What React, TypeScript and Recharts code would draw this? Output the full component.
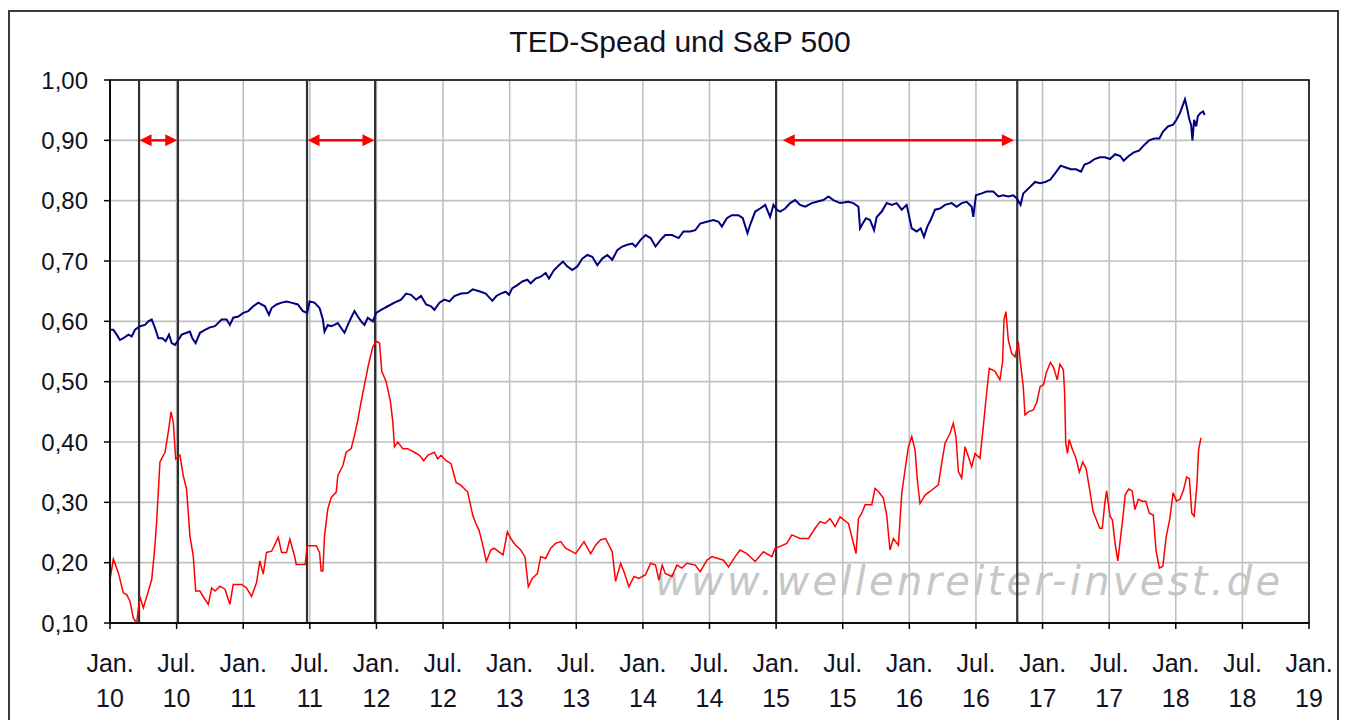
import {
  LineChart,
  Line,
  XAxis,
  YAxis,
  CartesianGrid,
  ReferenceLine,
  ReferenceArea,
} from "recharts";

// time is in decimal years (2010.5 = Jul. 10)
const xTicks = [
  2010, 2010.5, 2011, 2011.5, 2012, 2012.5, 2013, 2013.5, 2014, 2014.5,
  2015, 2015.5, 2016, 2016.5, 2017, 2017.5, 2018, 2018.5, 2019,
];
const xTickMonths = [
  "Jan.", "Jul.", "Jan.", "Jul.", "Jan.", "Jul.", "Jan.", "Jul.", "Jan.", "Jul.",
  "Jan.", "Jul.", "Jan.", "Jul.", "Jan.", "Jul.", "Jan.", "Jul.", "Jan.",
];
const xTickYears = [
  "10", "10", "11", "11", "12", "12", "13", "13", "14", "14",
  "15", "15", "16", "16", "17", "17", "18", "18", "19",
];
const yTicks = [0.1, 0.2, 0.3, 0.4, 0.5, 0.6, 0.7, 0.8, 0.9, 1.0];

// black marker lines and the red arrows between them
const eventDates = [2010.218, 2010.51, 2011.479, 2011.99, 2015.0, 2016.81];
const arrowSpans: [number, number][] = [
  [2010.222, 2010.505],
  [2011.483, 2011.985],
  [2015.05, 2016.785],
];
const arrowLevel = 0.9;

// TED spread (red)
const tedPoints: [number, number][] = [
  [2010.0, 0.172], [2010.025, 0.206], [2010.063, 0.183], [2010.1, 0.15], [2010.125, 0.147],
  [2010.15, 0.136], [2010.175, 0.108], [2010.2, 0.1], [2010.225, 0.144], [2010.25, 0.125],
  [2010.288, 0.153], [2010.313, 0.172], [2010.333, 0.217], [2010.35, 0.267], [2010.375, 0.367],
  [2010.413, 0.383], [2010.438, 0.417], [2010.458, 0.45], [2010.475, 0.433], [2010.493, 0.372],
  [2010.525, 0.378], [2010.55, 0.344], [2010.575, 0.322], [2010.6, 0.244], [2010.625, 0.211],
  [2010.643, 0.153], [2010.675, 0.153], [2010.713, 0.139], [2010.738, 0.131], [2010.763, 0.158],
  [2010.788, 0.153], [2010.825, 0.161], [2010.863, 0.156], [2010.9, 0.131], [2010.925, 0.164],
  [2010.988, 0.164], [2011.025, 0.158], [2011.063, 0.144], [2011.1, 0.167], [2011.125, 0.203],
  [2011.15, 0.181], [2011.175, 0.217], [2011.213, 0.219], [2011.263, 0.242], [2011.288, 0.217],
  [2011.325, 0.217], [2011.35, 0.239], [2011.385, 0.211], [2011.398, 0.197], [2011.465, 0.197],
  [2011.48, 0.228], [2011.548, 0.228], [2011.573, 0.217], [2011.585, 0.186], [2011.598, 0.186],
  [2011.61, 0.244], [2011.635, 0.289], [2011.66, 0.308], [2011.698, 0.317], [2011.71, 0.344],
  [2011.748, 0.361], [2011.773, 0.383], [2011.81, 0.389], [2011.835, 0.411], [2011.86, 0.436],
  [2011.885, 0.467], [2011.915, 0.5], [2011.94, 0.528], [2011.973, 0.558], [2011.998, 0.567],
  [2012.023, 0.564], [2012.04, 0.517], [2012.073, 0.5], [2012.105, 0.467], [2012.123, 0.433],
  [2012.135, 0.392], [2012.16, 0.4], [2012.198, 0.389], [2012.235, 0.389], [2012.285, 0.383],
  [2012.323, 0.378], [2012.355, 0.369], [2012.385, 0.378], [2012.435, 0.383], [2012.46, 0.372],
  [2012.485, 0.378], [2012.523, 0.369], [2012.56, 0.364], [2012.598, 0.333], [2012.635, 0.328],
  [2012.685, 0.317], [2012.723, 0.278], [2012.748, 0.264], [2012.77, 0.254], [2012.795, 0.232],
  [2012.825, 0.202], [2012.858, 0.221], [2012.883, 0.224], [2012.92, 0.218], [2012.95, 0.213],
  [2012.983, 0.251], [2013.008, 0.24], [2013.045, 0.229], [2013.083, 0.221], [2013.115, 0.21],
  [2013.14, 0.16], [2013.17, 0.174], [2013.208, 0.182], [2013.233, 0.21], [2013.27, 0.207],
  [2013.308, 0.224], [2013.345, 0.232], [2013.383, 0.235], [2013.42, 0.224], [2013.495, 0.215],
  [2013.558, 0.235], [2013.608, 0.215], [2013.645, 0.229], [2013.683, 0.238], [2013.72, 0.24],
  [2013.77, 0.218], [2013.795, 0.169], [2013.833, 0.199], [2013.858, 0.185], [2013.895, 0.16],
  [2013.933, 0.177], [2013.97, 0.174], [2014.02, 0.18], [2014.058, 0.199], [2014.095, 0.196],
  [2014.12, 0.171], [2014.145, 0.196], [2014.168, 0.182], [2014.218, 0.177], [2014.255, 0.196],
  [2014.293, 0.191], [2014.33, 0.199], [2014.393, 0.196], [2014.43, 0.185], [2014.48, 0.204],
  [2014.518, 0.21], [2014.605, 0.204], [2014.643, 0.193], [2014.693, 0.21], [2014.73, 0.221],
  [2014.78, 0.215], [2014.843, 0.202], [2014.905, 0.218], [2014.968, 0.21], [2014.993, 0.224],
  [2015.03, 0.227], [2015.08, 0.232], [2015.118, 0.246], [2015.18, 0.24], [2015.243, 0.24],
  [2015.293, 0.257], [2015.33, 0.268], [2015.368, 0.265], [2015.405, 0.273], [2015.443, 0.26],
  [2015.48, 0.276], [2015.543, 0.265], [2015.568, 0.243], [2015.6, 0.215], [2015.618, 0.273],
  [2015.643, 0.282], [2015.668, 0.296], [2015.718, 0.296], [2015.743, 0.323], [2015.768, 0.318],
  [2015.805, 0.307], [2015.83, 0.279], [2015.855, 0.221], [2015.88, 0.24], [2015.918, 0.229],
  [2015.943, 0.315], [2015.968, 0.354], [2015.993, 0.392], [2016.018, 0.409], [2016.043, 0.387],
  [2016.06, 0.337], [2016.08, 0.298], [2016.118, 0.312], [2016.155, 0.318], [2016.218, 0.329],
  [2016.243, 0.365], [2016.268, 0.398], [2016.305, 0.414], [2016.33, 0.431], [2016.35, 0.409],
  [2016.368, 0.351], [2016.393, 0.34], [2016.418, 0.392], [2016.443, 0.376], [2016.468, 0.359],
  [2016.493, 0.381], [2016.53, 0.373], [2016.555, 0.425], [2016.575, 0.47], [2016.6, 0.522],
  [2016.643, 0.517], [2016.68, 0.503], [2016.7, 0.533], [2016.71, 0.602], [2016.725, 0.616],
  [2016.743, 0.569], [2016.768, 0.547], [2016.793, 0.541], [2016.818, 0.566], [2016.83, 0.539],
  [2016.855, 0.492], [2016.868, 0.445], [2016.893, 0.45], [2016.93, 0.453], [2016.957, 0.466],
  [2016.982, 0.492], [2017.008, 0.495], [2017.028, 0.515], [2017.059, 0.532], [2017.084, 0.523],
  [2017.11, 0.503], [2017.13, 0.529], [2017.156, 0.52], [2017.166, 0.48], [2017.174, 0.398],
  [2017.187, 0.381], [2017.2, 0.404], [2017.225, 0.387], [2017.251, 0.373], [2017.276, 0.35],
  [2017.302, 0.367], [2017.327, 0.356], [2017.353, 0.322], [2017.379, 0.285], [2017.404, 0.271],
  [2017.43, 0.257], [2017.448, 0.257], [2017.468, 0.3], [2017.481, 0.319], [2017.506, 0.277],
  [2017.524, 0.271], [2017.545, 0.231], [2017.565, 0.203], [2017.583, 0.237], [2017.601, 0.271],
  [2017.621, 0.313], [2017.647, 0.322], [2017.673, 0.319], [2017.693, 0.288], [2017.719, 0.305],
  [2017.749, 0.302], [2017.775, 0.302], [2017.801, 0.282], [2017.831, 0.279], [2017.852, 0.22],
  [2017.877, 0.191], [2017.903, 0.194], [2017.928, 0.243], [2017.954, 0.271], [2017.98, 0.316],
  [2018.005, 0.302], [2018.031, 0.305], [2018.056, 0.319], [2018.082, 0.342], [2018.102, 0.339],
  [2018.12, 0.282], [2018.138, 0.277], [2018.159, 0.33], [2018.171, 0.387], [2018.189, 0.407],
];

// S&P 500, scaled (dark blue)
const spxPoints: [number, number][] = [
  [2010.0, 0.586], [2010.025, 0.586], [2010.05, 0.578], [2010.075, 0.569], [2010.1, 0.572],
  [2010.138, 0.578], [2010.163, 0.575], [2010.188, 0.586], [2010.225, 0.592], [2010.263, 0.594],
  [2010.288, 0.6], [2010.313, 0.603], [2010.338, 0.589], [2010.363, 0.572], [2010.393, 0.572],
  [2010.418, 0.567], [2010.443, 0.578], [2010.463, 0.564], [2010.488, 0.561], [2010.513, 0.569],
  [2010.538, 0.578], [2010.575, 0.581], [2010.6, 0.583], [2010.618, 0.572], [2010.643, 0.564],
  [2010.675, 0.581], [2010.713, 0.586], [2010.75, 0.59], [2010.788, 0.592], [2010.838, 0.603],
  [2010.875, 0.603], [2010.9, 0.594], [2010.925, 0.606], [2010.963, 0.608], [2011.0, 0.614],
  [2011.038, 0.617], [2011.075, 0.625], [2011.113, 0.631], [2011.163, 0.625], [2011.193, 0.611],
  [2011.213, 0.622], [2011.25, 0.628], [2011.288, 0.631], [2011.325, 0.633], [2011.36, 0.631],
  [2011.41, 0.628], [2011.448, 0.617], [2011.48, 0.614], [2011.498, 0.633], [2011.535, 0.631],
  [2011.573, 0.622], [2011.598, 0.603], [2011.61, 0.583], [2011.635, 0.594], [2011.66, 0.592],
  [2011.685, 0.594], [2011.71, 0.597], [2011.735, 0.589], [2011.76, 0.581], [2011.785, 0.594],
  [2011.81, 0.606], [2011.835, 0.617], [2011.86, 0.608], [2011.885, 0.6], [2011.91, 0.594],
  [2011.935, 0.606], [2011.973, 0.6], [2011.998, 0.614], [2012.035, 0.619], [2012.085, 0.625],
  [2012.135, 0.631], [2012.185, 0.636], [2012.223, 0.646], [2012.26, 0.644], [2012.298, 0.636],
  [2012.335, 0.642], [2012.373, 0.628], [2012.41, 0.625], [2012.435, 0.619], [2012.473, 0.631],
  [2012.51, 0.636], [2012.548, 0.633], [2012.585, 0.642], [2012.635, 0.646], [2012.685, 0.647],
  [2012.723, 0.653], [2012.783, 0.649], [2012.82, 0.646], [2012.87, 0.634], [2012.9, 0.642],
  [2012.933, 0.646], [2012.97, 0.649], [2012.995, 0.644], [2013.02, 0.655], [2013.058, 0.66],
  [2013.095, 0.666], [2013.133, 0.669], [2013.158, 0.663], [2013.195, 0.671], [2013.233, 0.674],
  [2013.27, 0.68], [2013.295, 0.671], [2013.333, 0.685], [2013.37, 0.693], [2013.4, 0.699],
  [2013.433, 0.691], [2013.47, 0.685], [2013.508, 0.691], [2013.545, 0.704], [2013.583, 0.71],
  [2013.62, 0.707], [2013.658, 0.693], [2013.695, 0.704], [2013.733, 0.71], [2013.77, 0.702],
  [2013.808, 0.718], [2013.845, 0.724], [2013.883, 0.727], [2013.92, 0.729], [2013.945, 0.724],
  [2013.983, 0.735], [2014.02, 0.743], [2014.058, 0.738], [2014.095, 0.724], [2014.133, 0.735],
  [2014.168, 0.743], [2014.218, 0.743], [2014.268, 0.738], [2014.305, 0.749], [2014.355, 0.749],
  [2014.393, 0.751], [2014.43, 0.762], [2014.48, 0.765], [2014.53, 0.768], [2014.568, 0.765],
  [2014.593, 0.757], [2014.63, 0.771], [2014.668, 0.776], [2014.718, 0.776], [2014.75, 0.771],
  [2014.785, 0.746], [2014.805, 0.76], [2014.843, 0.782], [2014.88, 0.787], [2014.918, 0.793],
  [2014.955, 0.773], [2014.98, 0.793], [2015.005, 0.785], [2015.03, 0.782], [2015.068, 0.787],
  [2015.105, 0.796], [2015.143, 0.801], [2015.18, 0.793], [2015.218, 0.79], [2015.268, 0.796],
  [2015.318, 0.799], [2015.355, 0.801], [2015.393, 0.807], [2015.43, 0.801], [2015.48, 0.796],
  [2015.543, 0.798], [2015.58, 0.796], [2015.618, 0.79], [2015.63, 0.754], [2015.65, 0.762],
  [2015.675, 0.771], [2015.705, 0.768], [2015.735, 0.751], [2015.755, 0.773], [2015.793, 0.782],
  [2015.83, 0.796], [2015.868, 0.793], [2015.905, 0.796], [2015.943, 0.785], [2015.98, 0.793],
  [2016.018, 0.754], [2016.055, 0.749], [2016.085, 0.754], [2016.11, 0.74], [2016.135, 0.757],
  [2016.16, 0.768], [2016.193, 0.785], [2016.23, 0.787], [2016.268, 0.793], [2016.318, 0.796],
  [2016.355, 0.79], [2016.393, 0.796], [2016.43, 0.798], [2016.468, 0.79], [2016.48, 0.773],
  [2016.5, 0.809], [2016.543, 0.812], [2016.58, 0.815], [2016.63, 0.815], [2016.668, 0.807],
  [2016.705, 0.809], [2016.743, 0.807], [2016.78, 0.809], [2016.805, 0.804], [2016.835, 0.793],
  [2016.855, 0.812], [2016.893, 0.82], [2016.944, 0.831], [2016.982, 0.829], [2017.02, 0.831],
  [2017.059, 0.835], [2017.097, 0.846], [2017.136, 0.858], [2017.174, 0.855], [2017.212, 0.852],
  [2017.251, 0.852], [2017.289, 0.848], [2017.315, 0.86], [2017.353, 0.863], [2017.391, 0.869],
  [2017.43, 0.872], [2017.468, 0.872], [2017.506, 0.869], [2017.545, 0.877], [2017.583, 0.874],
  [2017.609, 0.866], [2017.647, 0.874], [2017.685, 0.88], [2017.724, 0.883], [2017.762, 0.892],
  [2017.8, 0.9], [2017.839, 0.903], [2017.877, 0.903], [2017.903, 0.914], [2017.941, 0.923],
  [2017.98, 0.926], [2018.005, 0.934], [2018.031, 0.945], [2018.051, 0.957], [2018.069, 0.968],
  [2018.087, 0.951], [2018.102, 0.934], [2018.115, 0.926], [2018.125, 0.9], [2018.138, 0.934],
  [2018.153, 0.923], [2018.166, 0.94], [2018.184, 0.945], [2018.205, 0.948], [2018.217, 0.942],
];

const tedData = tedPoints.map(([t, v]) => ({ t, v }));
const spxData = spxPoints.map(([t, v]) => ({ t, v }));

const FONT = "'Liberation Sans', Arial, sans-serif";
const TEXT = "#111122";

function DateTick(props: any) {
  const { x, y, payload } = props;
  const i = xTicks.findIndex((d) => Math.abs(d - payload.value) < 1e-6);
  if (i < 0) return null;
  return (
    <g transform={`translate(${x},${y})`}>
      <text x={0} y={41} textAnchor="middle" fontSize={25} fill={TEXT} fontFamily={FONT}>
        {xTickMonths[i]}
      </text>
      <text x={0} y={76} textAnchor="middle" fontSize={25} fill={TEXT} fontFamily={FONT}>
        {xTickYears[i]}
      </text>
    </g>
  );
}

// double headed arrow drawn over a reference segment
function ArrowShape(props: any) {
  const { x1, y1, x2, y2 } = props;
  const len = 12;
  const half = 6;
  return (
    <g>
      <line x1={x1 + len - 1} y1={y1} x2={x2 - len + 1} y2={y2} stroke="#ff0000" strokeWidth={2.5} />
      <polygon
        points={`${x1},${y1} ${x1 + len},${y1 - half} ${x1 + len},${y1 + half}`}
        fill="#ff0000"
      />
      <polygon
        points={`${x2},${y2} ${x2 - len},${y2 - half} ${x2 - len},${y2 + half}`}
        fill="#ff0000"
      />
    </g>
  );
}

export default function App() {
  return (
    <div
      style={{
        position: "fixed",
        left: 0,
        top: 0,
        width: 1347,
        height: 720,
        overflow: "hidden",
        background: "#fff",
      }}
    >
      <div
        style={{
          position: "absolute",
          left: 8,
          top: 10,
          width: 1331,
          height: 760,
          border: "2px solid #3a3a3a",
          boxSizing: "border-box",
        }}
      />
      <svg width={1347} height={720} style={{ position: "absolute", left: 0, top: 0 }}>
        <text x={680} y={52} textAnchor="middle" fontSize={30} fill={TEXT} fontFamily={FONT}>
          TED-Spead und S&amp;P 500
        </text>
        <text
          x={655}
          y={595}
          fontSize={40}
          fontStyle="italic"
          fill="#c6c6c6"
          fontFamily="'DejaVu Sans', Verdana, sans-serif"
          textLength={625}
          lengthAdjust="spacing"
        >
          www.wellenreiter-invest.de
        </text>
      </svg>
      <div style={{ position: "absolute", left: 0, top: 0 }}>
        <LineChart width={1347} height={720} margin={{ top: 80, right: 38, bottom: 0, left: 10 }}>
          <CartesianGrid stroke="#c0c0c0" strokeWidth={1.6} />
          <XAxis
            type="number"
            dataKey="t"
            domain={[2010, 2019]}
            ticks={xTicks}
            interval={0}
            allowDataOverflow
            height={97}
            tickSize={6}
            tickMargin={2}
            tick={<DateTick />}
            stroke="#000"
            strokeWidth={1.5}
          />
          <YAxis
            type="number"
            domain={[0.1, 1.0]}
            ticks={yTicks}
            interval={0}
            allowDataOverflow
            width={100}
            tickSize={6}
            tickMargin={16}
            tickFormatter={(v: number) => v.toFixed(2).replace(".", ",")}
            tick={{ fill: TEXT, fontSize: 24, fontFamily: FONT }}
            stroke="#000"
            strokeWidth={1.5}
          />
          <ReferenceArea
            x1={2010}
            x2={2019}
            y1={0.1}
            y2={1.0}
            fill="none"
            fillOpacity={0}
            stroke="#000"
            strokeWidth={1.5}
          />
          {eventDates.map((d) => (
            <ReferenceLine key={d} x={d} stroke="#303030" strokeWidth={2.2} />
          ))}
          {arrowSpans.map(([a, b]) => (
            <ReferenceLine
              key={a}
              segment={[
                { x: a, y: arrowLevel },
                { x: b, y: arrowLevel },
              ]}
              shape={ArrowShape}
            />
          ))}
          <Line
            data={spxData}
            dataKey="v"
            type="linear"
            stroke="#000080"
            strokeWidth={2}
            dot={false}
            isAnimationActive={false}
          />
          <Line
            data={tedData}
            dataKey="v"
            type="linear"
            stroke="#ff0000"
            strokeWidth={1.5}
            dot={false}
            isAnimationActive={false}
          />
        </LineChart>
      </div>
    </div>
  );
}
